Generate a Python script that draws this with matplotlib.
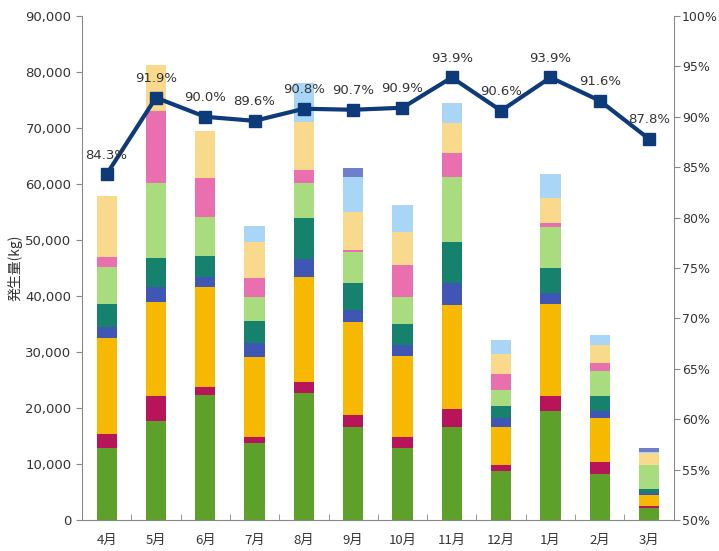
import numpy as np
import matplotlib.pyplot as plt
from matplotlib.ticker import FuncFormatter, MultipleLocator

plt.rcParams['font.family'] = ['DejaVu Sans', 'Noto Sans CJK JP']

months = ["4月", "5月", "6月", "7月", "8月", "9月", "10月", "11月", "12月", "1月", "2月", "3月"]

# segment values (kg), bottom to top
green = [12900, 17700, 22300, 13700, 22700, 16600, 12900, 16600, 8750, 19500, 8200, 2100]
crimson = [2500, 4400, 1500, 1200, 1900, 2150, 2000, 3200, 1050, 2600, 2100, 400]
orange = [17100, 16900, 17800, 14200, 18800, 16650, 14400, 18600, 6800, 16500, 7900, 2000]
blue = [2000, 2600, 1800, 2500, 3200, 2100, 1950, 3900, 1600, 1900, 1300, 300]
teal = [4000, 5200, 3700, 3900, 7300, 4800, 3750, 7300, 2200, 4500, 2600, 700]
lightgreen = [6700, 13400, 7000, 4300, 6300, 5600, 4800, 11700, 2800, 7300, 4500, 4300]
pink = [1800, 12800, 7000, 3400, 2300, 300, 5700, 4200, 2900, 700, 1400, 0]
tan = [10900, 8200, 8400, 6400, 8600, 6800, 5900, 5400, 3500, 4500, 3250, 2100]
lightblue = [0, 0, 0, 2900, 6900, 6300, 4850, 3600, 2500, 4300, 1750, 300]
periwinkle = [0, 0, 0, 0, 0, 1500, 0, 0, 0, 0, 0, 600]

rate = [84.3, 91.9, 90.0, 89.6, 90.8, 90.7, 90.9, 93.9, 90.6, 93.9, 91.6, 87.8]

series = [green, crimson, orange, blue, teal, lightgreen, pink, tan, lightblue, periwinkle]
colors = ["#5ea12a", "#b8145a", "#f6b800", "#3f56b5", "#16826e",
          "#a9dc7f", "#ea6fae", "#f9d98c", "#a9d5f7", "#6f7fcc"]

fig = plt.figure(figsize=(7.19, 5.51), dpi=100)
ax = fig.add_axes([0.114, 0.056, 0.823, 0.915])

x = np.arange(len(months))
bottom = np.zeros(len(months))
for vals, c in zip(series, colors):
    ax.bar(x, vals, 0.41, bottom=bottom, color=c, linewidth=0, zorder=2)
    bottom += np.array(vals)

ax.set_xlim(-0.5, len(months) - 0.5)
ax.set_ylim(0, 90000)
ax.yaxis.set_major_locator(MultipleLocator(10000))
ax.yaxis.set_major_formatter(FuncFormatter(lambda v, p: f"{int(v):,}"))
ax.set_xticks(x)
ax.set_xticklabels(months, family=['Noto Sans CJK JP'])
ax.set_xticks(x[:-1] + 0.5, minor=True)
ax.tick_params(axis='x', which='major', length=0, pad=10, labelsize=9.5, colors='#333333')
ax.tick_params(axis='x', which='minor', direction='in', length=4, color='#888888')
ax.tick_params(axis='y', labelsize=9.5, colors='#333333', length=4, color='#888888')
ax.set_ylabel("発生量(kg)", family=['Noto Sans CJK JP', 'DejaVu Sans'], fontsize=10, color='#333333', labelpad=2)
for s in ['left', 'bottom']:
    ax.spines[s].set_color('#888888')
ax.spines['top'].set_visible(False)
ax.spines['right'].set_visible(False)

ax2 = ax.twinx()
ax2.set_ylim(50, 100)
ax2.yaxis.set_major_locator(MultipleLocator(5))
ax2.yaxis.set_major_formatter(FuncFormatter(lambda v, p: f"{int(v)}%"))
ax2.tick_params(axis='y', labelsize=9, colors='#333333', length=4, pad=2, color='#888888')
ax2.spines['right'].set_color('#888888')
for s in ['top', 'left', 'bottom']:
    ax2.spines[s].set_visible(False)

ax2.plot(x, rate, color="#0d3a78", linewidth=3, marker='s', markersize=9, zorder=3)
for xi, r in zip(x, rate):
    ax2.annotate(f"{r:.1f}%", (xi, r), xytext=(0, 9), textcoords='offset points',
                 ha='center', va='bottom', fontsize=9.5, color='#333333')

fig.savefig("out.png", dpi=100)
